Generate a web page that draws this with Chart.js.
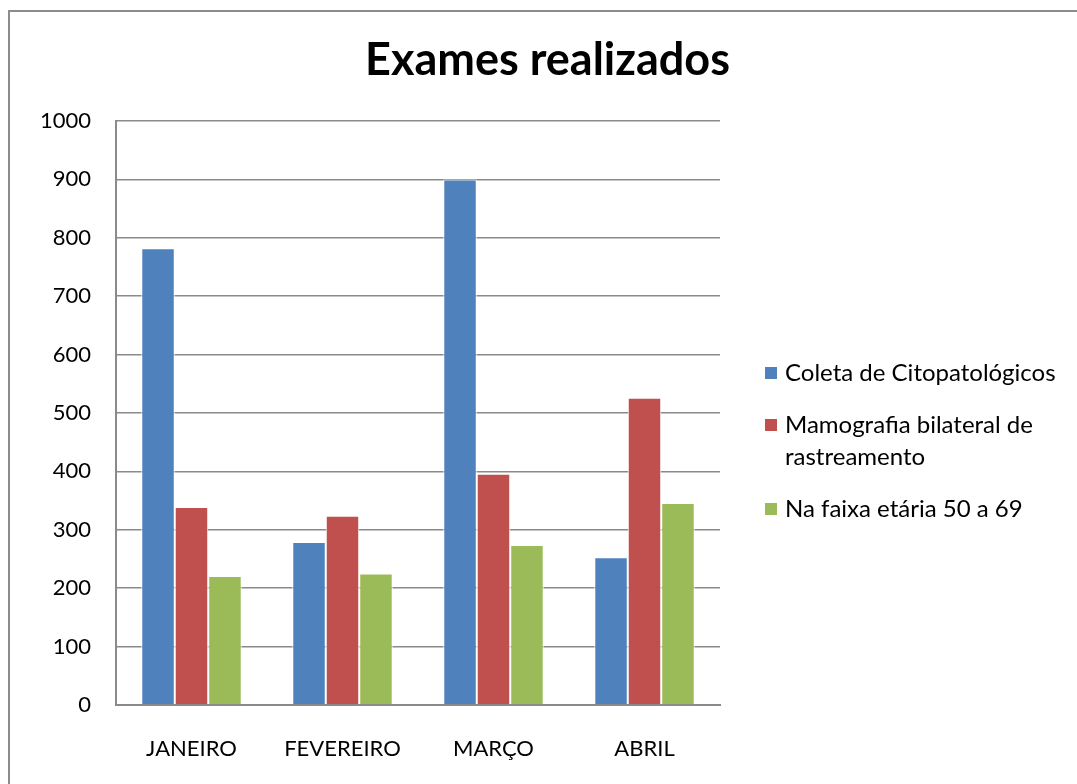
<!DOCTYPE html>
<html>
<head>
<meta charset="utf-8">
<script src="https://cdn.jsdelivr.net/npm/chart.js@4/dist/chart.umd.min.js"></script>
<style>
  html, body { margin: 0; padding: 0; background: #fff; }
  #wrap { width: 1077px; height: 784px; }
</style>
</head>
<body>
<div id="wrap"><canvas id="chart" width="1077" height="784"></canvas></div>
<script>
// data
const months = ['JANEIRO', 'FEVEREIRO', 'MARÇO', 'ABRIL'];
const seriesNames = ['Coleta de Citopatológicos', 'Mamografia bilateral de rastreamento', 'Na faixa etária 50 a 69'];
const coleta = [782, 279, 900, 253];
const mamografia = [339, 324, 396, 526];
const faixaEtaria = [221, 225, 274, 346];
const colors = ['#4F81BD', '#C0504D', '#9BBB59'];

const gridGrey = '#8a8a8a';
const font = 'Lato, "Liberation Sans", sans-serif';

// frame + legend drawn on canvas
const extras = {
  id: 'extras',
  afterDraw(chart) {
    const ctx = chart.ctx;
    ctx.save();
    ctx.strokeStyle = '#8c8c8c';
    ctx.lineWidth = 2;
    ctx.strokeRect(9, 11, 1200, 900);

    ctx.font = '24px ' + font;
    ctx.textBaseline = 'middle';
    let y = 373;
    chart.data.datasets.forEach(ds => {
      // wrap label text
      const words = ds.label.split(' ');
      const lines = [];
      let cur = '';
      words.forEach(w => {
        const t = cur ? cur + ' ' + w : w;
        if (ctx.measureText(t).width > 285 && cur) { lines.push(cur); cur = w; } else cur = t;
      });
      lines.push(cur);
      ctx.fillStyle = ds.backgroundColor;
      ctx.fillRect(765, y - 6, 12, 12);
      ctx.fillStyle = '#000';
      lines.forEach((l, i) => ctx.fillText(l, 785, y + i * 32));
      y += lines.length * 32 + 20;
    });
    ctx.restore();
  }
};

new Chart(document.getElementById('chart'), {
  type: 'bar',
  data: {
    labels: months,
    datasets: [
      { label: seriesNames[0], data: coleta, backgroundColor: colors[0] },
      { label: seriesNames[1], data: mamografia, backgroundColor: colors[1] },
      { label: seriesNames[2], data: faixaEtaria, backgroundColor: colors[2] }
    ]
  },
  options: {
    responsive: false,
    animation: false,
    layout: { padding: { left: 18, right: 0, top: 0, bottom: 0 } },
    datasets: {
      bar: {
        categoryPercentage: 0.665,
        barPercentage: 1,
        borderColor: '#ffffff',
        borderWidth: 1,
        borderSkipped: 'bottom'
      }
    },
    plugins: {
      legend: { display: false },
      tooltip: { enabled: false },
      title: {
        display: true,
        text: 'Exames realizados',
        color: '#000',
        font: { family: font, size: 45, weight: 'bold', lineHeight: 1.2 },
        padding: { top: 33, bottom: 34 }
      }
    },
    scales: {
      x: {
        grid: { display: false },
        border: { display: true, color: gridGrey, width: 2 },
        ticks: { color: '#000', font: { family: font, size: 22 }, padding: 23, maxRotation: 0 },
        afterFit(s) { s.height = 79; }
      },
      y: {
        min: 0,
        max: 1000,
        grid: { color: gridGrey, lineWidth: 1.5, drawTicks: false },
        border: { display: true, color: gridGrey, width: 2 },
        ticks: { stepSize: 100, color: '#000', font: { family: font, size: 22 }, padding: 25, callback: v => String(v) },
        afterFit(s) { s.width = 98; }
      },
      side: {
        type: 'linear',
        position: 'right',
        grid: { display: false },
        border: { display: false },
        ticks: { display: false },
        afterFit(s) { s.width = 357; }
      }
    }
  },
  plugins: [extras]
});
</script>
</body>
</html>
